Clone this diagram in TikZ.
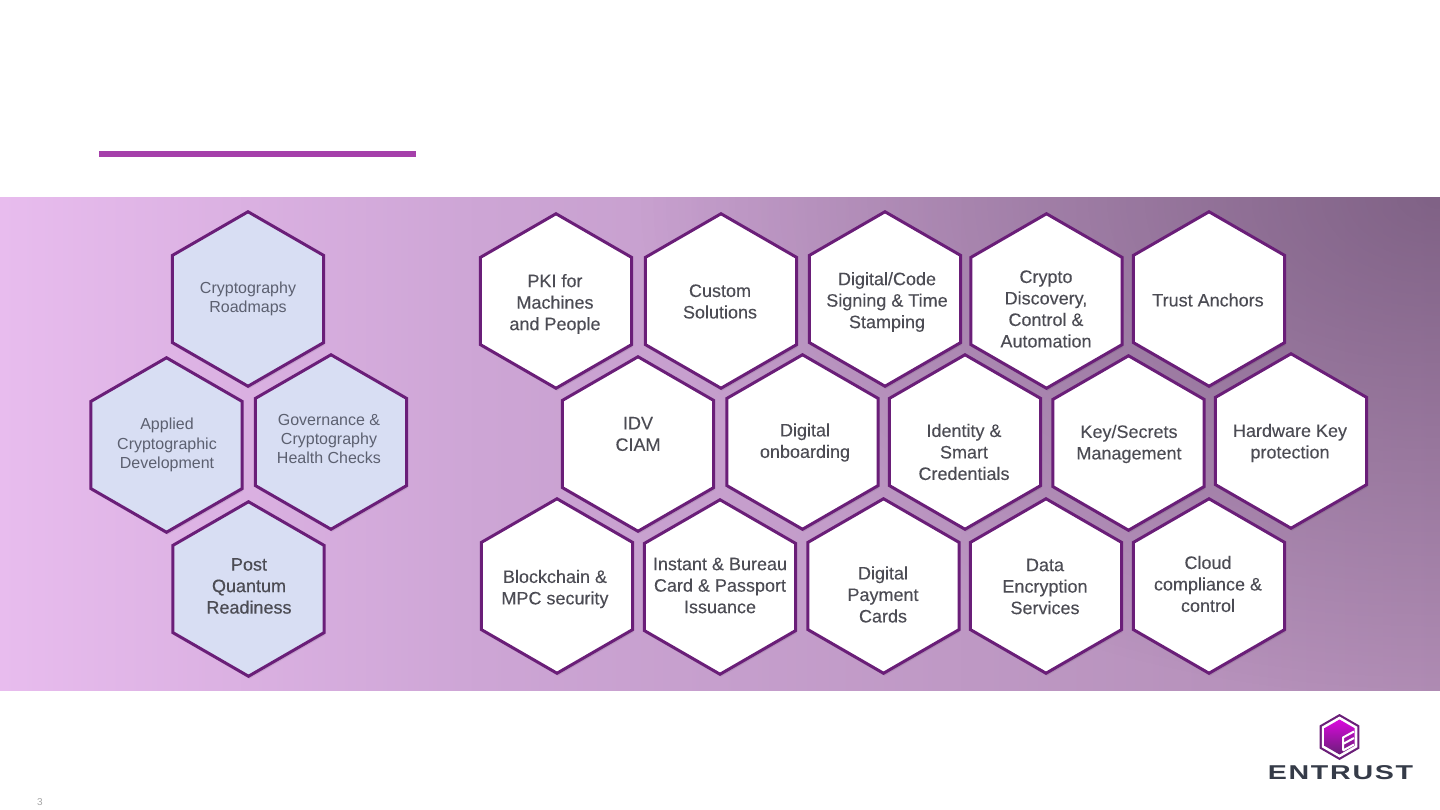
\documentclass[tikz,border=0pt]{standalone}
\usepackage{xcolor}
\usepackage{fontspec}
\setmainfont{Liberation Sans}
\newfontface\labface{Liberation Sans}[FakeBold=0.15]
\newfontface\postface{Liberation Sans}[FakeBold=0.4]
\newfontface\logoface{Liberation Sans Bold}[LetterSpace=6]
\usepackage{tikz}
\usetikzlibrary{shapes.geometric,shadows,fadings}
\definecolor{hexpurple}{RGB}{106,30,120}
\definecolor{hexpale}{RGB}{216,222,243}
\definecolor{bandleft}{RGB}{232,188,238}
\definecolor{bandmid}{RGB}{205,165,213}
\definecolor{bandright}{RGB}{176,140,180}
\definecolor{bandcorner}{RGB}{80,56,88}
\definecolor{barpurple}{RGB}{165,64,170}
\definecolor{txtdark}{RGB}{76,76,84}
\definecolor{txtsoft}{RGB}{92,96,112}
\definecolor{logoink}{RGB}{53,59,72}
\pgfdeclarehorizontalshading{bandgrad}{100bp}{color(0bp)=(bandleft); color(25bp)=(bandleft);
  color(41.7bp)=(bandmid); color(75bp)=(bandright); color(100bp)=(bandright)}
\tikzfading[name=cornerfade, inner color=transparent!50, outer color=transparent!100]

\begin{document}
\begin{tikzpicture}[
  x=1pt, y=-1pt,
  font=\rmfamily,
  hexbase/.style={draw=hexpurple, regular polygon, regular polygon sides=6, shape border rotate=30,
    minimum size=174.5pt, inner sep=0pt, outer sep=0pt, line width=3pt,
    drop shadow={shadow xshift=1pt, shadow yshift=-2.5pt, fill=black, opacity=0.08}},
  hexw/.style={hexbase, fill=white},
  hexp/.style={hexbase, fill=hexpale},
  lab/.style={align=center, inner sep=0pt, text=txtdark, font=\labface\fontsize{18}{21.5}\selectfont},
  labpost/.style={align=center, inner sep=0pt, text=txtdark, font=\postface\fontsize{18}{21.5}\selectfont},
  labsoft/.style={align=center, inner sep=0pt, text=txtsoft, font=\fontsize{16}{19.3}\selectfont},
  logohex/.style={regular polygon, regular polygon sides=6, shape border rotate=30, inner sep=0pt, outer sep=0pt},
]
\useasboundingbox (0,0) rectangle (1440,810);

% ============ Title rule and band ============
\fill[white] (0,0) rectangle (1440,810);
\fill[barpurple] (99,151) rectangle (416,157);
\shade[shading=bandgrad] (0,197.5) rectangle (1440,690.5);
\begin{scope}
  \clip (0,197.5) rectangle (1440,690.5);
  \fill[bandcorner, path fading=cornerfade] (640,-303) rectangle (2240,697);
\end{scope}

% ============ Left cluster ============
\node[hexp] (roadmaps) at (248,299) {};
\node[labsoft] (roadmapst) at (248,299) {Cryptography\\Roadmaps};
\node[hexp] (applied) at (166.5,445) {};
\node[labsoft] (appliedt) at (167,445) {Applied\\Cryptographic\\Development};
\node[hexp] (health) at (331,442) {};
\node[labsoft] (healtht) at (329,439) {Governance \&\\Cryptography\\Health Checks};
\node[hexp] (post) at (248.5,589) {};
\node[labpost] (postt) at (249,586) {Post\\Quantum\\Readiness};

% ============ Top row ============
\node[hexw] (pki) at (556,301) {};
\node[lab] (pkit) at (555,304) {PKI for\\Machines\\and People};
\node[hexw] (custom) at (721,301) {};
\node[lab] (customt) at (720,301.5) {Custom\\Solutions};
\node[hexw] (signing) at (885,299) {};
\node[lab] (signingt) at (887,302) {Digital/Code\\Signing \& Time\\Stamping};
\node[hexw] (discovery) at (1046.5,301) {};
\node[lab] (discoveryt) at (1046,309) {Crypto\\Discovery,\\Control \&\\Automation};
\node[hexw] (anchors) at (1209,299) {};
\node[lab] (anchorst) at (1208,300) {Trust Anchors};

% ============ Middle row ============
\node[hexw] (idv) at (638,444) {};
\node[lab] (idvt) at (638,434) {IDV\\CIAM};
\node[hexw] (onboard) at (802.5,442) {};
\node[lab] (onboardt) at (805,442.5) {Digital\\onboarding};
\node[hexw] (smart) at (965,442) {};
\node[lab] (smartt) at (964,452) {Identity \&\\Smart\\Credentials};
\node[hexw] (secrets) at (1128.5,443) {};
\node[lab] (secretst) at (1129,444) {Key/Secrets\\Management};
\node[hexw] (hardware) at (1291,441) {};
\node[lab] (hardwaret) at (1290,443) {Hardware Key\\protection};

% ============ Bottom row ============
\node[hexw] (mpc) at (557,586) {};
\node[lab] (mpct) at (555,589) {Blockchain \&\\MPC security};
\node[hexw] (issuance) at (720,587) {};
\node[lab] (issuancet) at (720,585.5) {Instant \& Bureau\\Card \& Passport\\Issuance};
\node[hexw] (payment) at (883.5,586) {};
\node[lab] (paymentt) at (883,594.5) {Digital\\Payment\\Cards};
\node[hexw] (encrypt) at (1046,586) {};
\node[lab] (encryptt) at (1045,586.5) {Data\\Encryption\\Services};
\node[hexw] (cloud) at (1209,586) {};
\node[lab] (cloudt) at (1208,584) {Cloud\\compliance \&\\control};

% ============ Logo and page number ============
\node[logohex, fill=hexpurple, minimum size=46pt] (logoa) at (1339.5,737) {};
\node[logohex, fill=white, minimum size=41pt] (logob) at (1339.5,737) {};
\node[logohex, minimum size=35pt, top color=magenta!75!hexpurple, bottom color=hexpurple] (logoc) at (1339.5,737) {};
% E mark in the cube
\draw[white, line width=2pt] (1343,750.5) -- (1343,737.5) -- (1354,731.5)
  (1343,744) -- (1354,738) (1343,750.5) -- (1354,744.5);
\node[inner sep=0pt, text=logoink, font=\logoface\fontsize{20}{20}\selectfont] (logotext) at (1340.5,773)
  {\scalebox{1.43}[1]{ENTRUST}};
\node[inner sep=0pt, text=black!35, font=\fontsize{10}{10}\selectfont] (pagenum) at (40,802) {3};

\end{tikzpicture}
\end{document}
